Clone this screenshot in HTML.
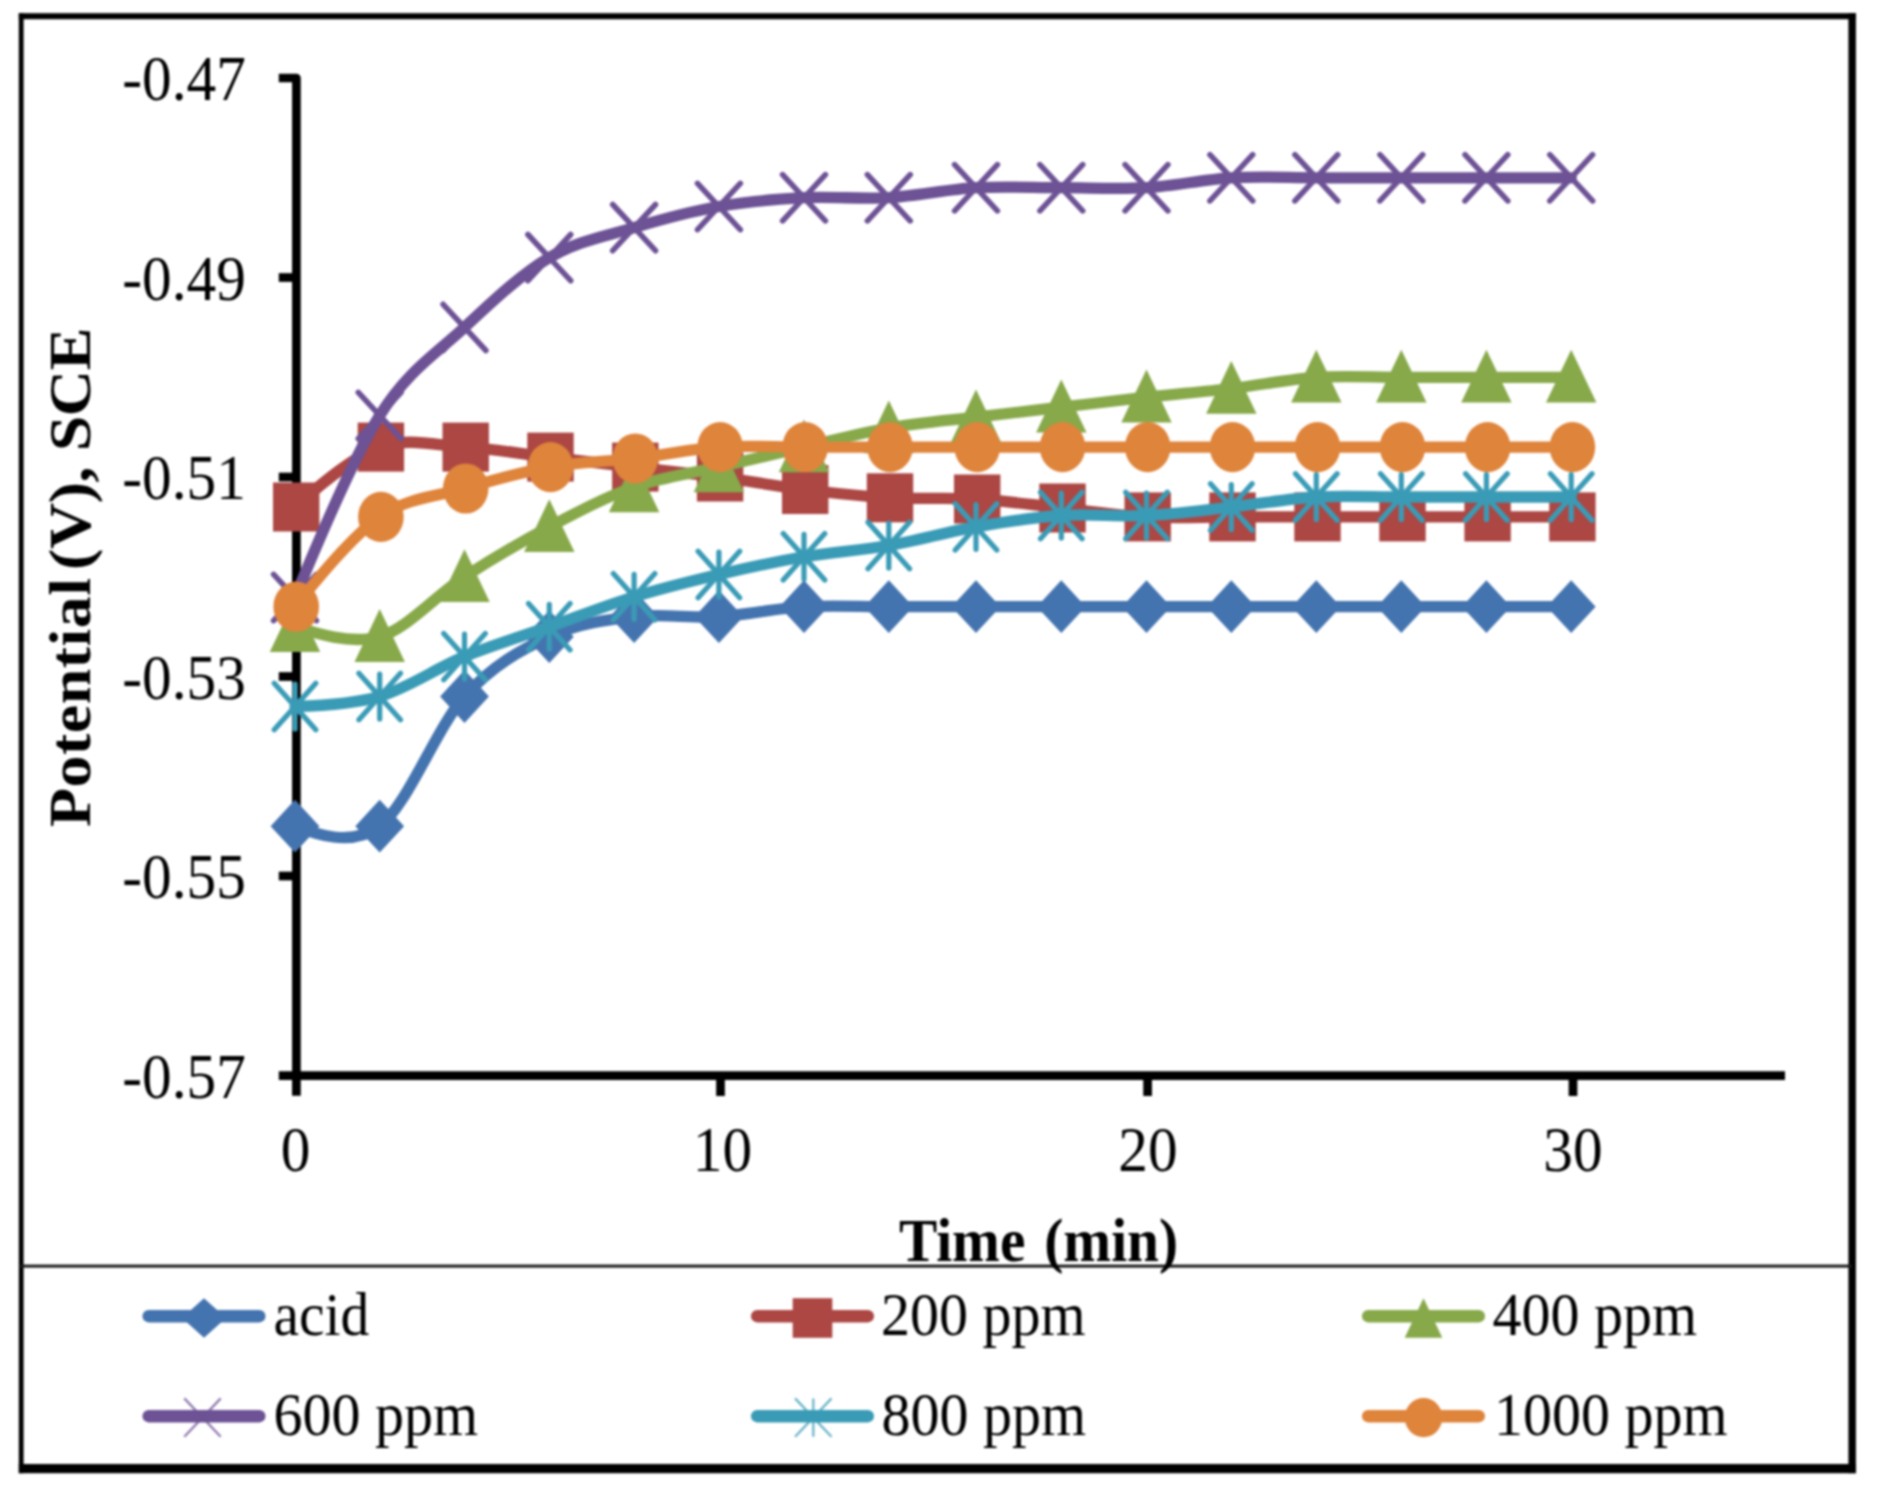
<!DOCTYPE html>
<html lang="en"><head><meta charset="utf-8"><title>Potential vs Time</title>
<style>html,body{margin:0;padding:0;background:#fff}body{width:1878px;height:1488px;overflow:hidden}svg{display:block;filter:blur(0.8px)}</style>
</head><body>
<svg width="1878" height="1488" viewBox="0 0 1878 1488">
<rect width="1878" height="1488" fill="#fff"/>
<rect x="18.8" y="13.2" width="1837.1" height="6" fill="#000"/>
<rect x="18.8" y="13.2" width="4.8" height="1460" fill="#000"/>
<rect x="1848.4" y="13.2" width="7.5" height="1460" fill="#000"/>
<rect x="18.8" y="1464" width="1837.1" height="9.2" fill="#000"/>
<rect x="20" y="1264.6" width="1832" height="3" fill="#1a1a1a"/>
<g stroke="#000" stroke-width="8.7" fill="none">
<path d="M278.8,78H296.4V1095.8" stroke-linejoin="round"/>
<path d="M278.8,1075.6H1785"/>
<path d="M278.8,277.5H296"/>
<path d="M278.8,477H296"/>
<path d="M278.8,676.5H296"/>
<path d="M278.8,876H296"/>
<path d="M720.5,1075.6V1096"/>
<path d="M1147.6,1075.6V1096"/>
<path d="M1573,1075.6V1096"/>
</g>
<g><path d="M295.0,826.2C313.8,833.4 351.4,847.8 379.7,826.2C407.9,804.6 436.2,728.1 464.5,696.5C492.8,664.9 521.0,650.0 549.3,636.7C577.6,623.4 605.8,620.0 634.1,616.7C662.4,613.4 690.6,618.4 718.9,616.7C747.2,615.0 775.7,608.4 804.0,606.7C832.3,605.1 860.1,606.7 888.8,606.7C917.5,606.7 947.2,606.7 976.0,606.7C1004.8,606.7 1032.9,606.7 1061.3,606.7C1089.7,606.7 1118.2,606.7 1146.5,606.7C1174.8,606.7 1203.0,606.7 1231.3,606.7C1259.6,606.7 1288.0,606.7 1316.3,606.7C1344.6,606.7 1372.9,606.7 1401.3,606.7C1429.7,606.7 1458.1,606.7 1486.4,606.7C1514.7,606.7 1552.4,606.7 1571.2,606.7" stroke="#4474AF" stroke-width="11.3" fill="none" stroke-linecap="round" stroke-linejoin="round"/>
<path d="M295.0,799.8L319.4,826.2L295.0,852.6L270.6,826.2Z" fill="#4474AF"/>
<path d="M379.7,799.8L404.1,826.2L379.7,852.6L355.3,826.2Z" fill="#4474AF"/>
<path d="M464.5,670.1L488.9,696.5L464.5,722.9L440.1,696.5Z" fill="#4474AF"/>
<path d="M549.3,610.3L573.7,636.7L549.3,663.1L524.9,636.7Z" fill="#4474AF"/>
<path d="M634.1,590.3L658.5,616.7L634.1,643.1L609.7,616.7Z" fill="#4474AF"/>
<path d="M718.9,590.3L743.3,616.7L718.9,643.1L694.5,616.7Z" fill="#4474AF"/>
<path d="M804.0,580.3L828.4,606.7L804.0,633.1L779.6,606.7Z" fill="#4474AF"/>
<path d="M888.8,580.3L913.2,606.7L888.8,633.1L864.4,606.7Z" fill="#4474AF"/>
<path d="M976.0,580.3L1000.4,606.7L976.0,633.1L951.6,606.7Z" fill="#4474AF"/>
<path d="M1061.3,580.3L1085.7,606.7L1061.3,633.1L1036.9,606.7Z" fill="#4474AF"/>
<path d="M1146.5,580.3L1170.9,606.7L1146.5,633.1L1122.1,606.7Z" fill="#4474AF"/>
<path d="M1231.3,580.3L1255.7,606.7L1231.3,633.1L1206.9,606.7Z" fill="#4474AF"/>
<path d="M1316.3,580.3L1340.7,606.7L1316.3,633.1L1291.9,606.7Z" fill="#4474AF"/>
<path d="M1401.3,580.3L1425.7,606.7L1401.3,633.1L1376.9,606.7Z" fill="#4474AF"/>
<path d="M1486.4,580.3L1510.8,606.7L1486.4,633.1L1462.0,606.7Z" fill="#4474AF"/>
<path d="M1571.2,580.3L1595.6,606.7L1571.2,633.1L1546.8,606.7Z" fill="#4474AF"/>
</g>
<g><path d="M295.0,507.0C313.8,490.3 351.4,457.1 379.7,447.1C407.9,437.1 436.2,445.4 464.5,447.1C492.8,448.8 521.0,453.8 549.3,457.1C577.6,460.4 605.8,463.7 634.1,467.1C662.4,470.4 690.6,473.3 718.9,477.0C747.2,480.8 775.7,486.0 804.0,489.5C832.3,493.0 860.1,496.2 888.8,497.8C917.5,499.4 947.2,497.3 976.0,499.0C1004.8,500.7 1032.9,505.0 1061.3,508.0C1089.7,511.0 1118.2,515.5 1146.5,516.9C1174.8,518.4 1203.0,516.9 1231.3,516.9C1259.6,516.9 1288.0,516.9 1316.3,516.9C1344.6,516.9 1372.9,516.9 1401.3,516.9C1429.7,516.9 1458.1,516.9 1486.4,516.9C1514.7,516.9 1552.4,516.9 1571.2,516.9" stroke="#AC4744" stroke-width="11.3" fill="none" stroke-linecap="round" stroke-linejoin="round"/>
<rect x="273.0" y="482.5" width="46.4" height="49.0" fill="#AC4744"/>
<rect x="357.7" y="422.6" width="46.4" height="49.0" fill="#AC4744"/>
<rect x="442.5" y="422.6" width="46.4" height="49.0" fill="#AC4744"/>
<rect x="527.3" y="432.6" width="46.4" height="49.0" fill="#AC4744"/>
<rect x="612.1" y="442.6" width="46.4" height="49.0" fill="#AC4744"/>
<rect x="696.9" y="452.5" width="46.4" height="49.0" fill="#AC4744"/>
<rect x="782.0" y="465.0" width="46.4" height="49.0" fill="#AC4744"/>
<rect x="866.8" y="473.3" width="46.4" height="49.0" fill="#AC4744"/>
<rect x="954.0" y="474.5" width="46.4" height="49.0" fill="#AC4744"/>
<rect x="1039.3" y="483.5" width="46.4" height="49.0" fill="#AC4744"/>
<rect x="1124.5" y="492.4" width="46.4" height="49.0" fill="#AC4744"/>
<rect x="1209.3" y="492.4" width="46.4" height="49.0" fill="#AC4744"/>
<rect x="1294.3" y="492.4" width="46.4" height="49.0" fill="#AC4744"/>
<rect x="1379.3" y="492.4" width="46.4" height="49.0" fill="#AC4744"/>
<rect x="1464.4" y="492.4" width="46.4" height="49.0" fill="#AC4744"/>
<rect x="1549.2" y="492.4" width="46.4" height="49.0" fill="#AC4744"/>
</g>
<g><path d="M295.0,626.7C313.8,632.8 351.4,645.0 379.7,636.7C407.9,628.3 436.2,595.1 464.5,576.8C492.8,558.5 521.0,541.9 549.3,526.9C577.6,512.0 605.8,497.0 634.1,487.0C662.4,477.0 690.6,473.7 718.9,467.1C747.2,460.4 775.7,453.6 804.0,447.1C832.3,440.6 860.1,433.0 888.8,428.0C917.5,423.0 947.2,420.6 976.0,417.2C1004.8,413.7 1032.9,410.5 1061.3,407.2C1089.7,403.9 1118.2,400.4 1146.5,397.2C1174.8,394.1 1203.0,391.8 1231.3,388.5C1259.6,385.2 1288.0,379.2 1316.3,377.3C1344.6,375.4 1372.9,377.3 1401.3,377.3C1429.7,377.3 1458.1,377.3 1486.4,377.3C1514.7,377.3 1552.4,377.3 1571.2,377.3" stroke="#87A94A" stroke-width="11.3" fill="none" stroke-linecap="round" stroke-linejoin="round"/>
<path d="M295.0,599.1L320.2,651.9L269.8,651.9Z" fill="#87A94A"/>
<path d="M379.7,609.1L404.9,661.9L354.5,661.9Z" fill="#87A94A"/>
<path d="M464.5,549.2L489.7,602.0L439.3,602.0Z" fill="#87A94A"/>
<path d="M549.3,499.3L574.5,552.1L524.1,552.1Z" fill="#87A94A"/>
<path d="M634.1,459.4L659.3,512.2L608.9,512.2Z" fill="#87A94A"/>
<path d="M718.9,439.5L744.1,492.3L693.7,492.3Z" fill="#87A94A"/>
<path d="M804.0,419.5L829.2,472.3L778.8,472.3Z" fill="#87A94A"/>
<path d="M888.8,400.4L914.0,453.2L863.6,453.2Z" fill="#87A94A"/>
<path d="M976.0,389.6L1001.2,442.4L950.8,442.4Z" fill="#87A94A"/>
<path d="M1061.3,379.6L1086.5,432.4L1036.1,432.4Z" fill="#87A94A"/>
<path d="M1146.5,369.6L1171.7,422.4L1121.3,422.4Z" fill="#87A94A"/>
<path d="M1231.3,360.9L1256.5,413.7L1206.1,413.7Z" fill="#87A94A"/>
<path d="M1316.3,349.7L1341.5,402.5L1291.1,402.5Z" fill="#87A94A"/>
<path d="M1401.3,349.7L1426.5,402.5L1376.1,402.5Z" fill="#87A94A"/>
<path d="M1486.4,349.7L1511.6,402.5L1461.2,402.5Z" fill="#87A94A"/>
<path d="M1571.2,349.7L1596.4,402.5L1546.0,402.5Z" fill="#87A94A"/>
</g>
<g><path d="M295.0,597.5C313.8,551.8 351.4,460.5 379.7,415.5C407.9,370.5 436.2,353.7 464.5,327.4C492.8,301.1 521.0,274.2 549.3,257.6C577.6,240.9 605.8,236.2 634.1,227.6C662.4,219.1 690.6,211.5 718.9,206.5C747.2,201.5 775.7,199.2 804.0,197.7C832.3,196.2 860.1,199.4 888.8,197.7C917.5,196.0 947.2,189.4 976.0,187.7C1004.8,186.1 1032.9,187.7 1061.3,187.7C1089.7,187.7 1118.2,189.4 1146.5,187.7C1174.8,186.1 1203.0,179.4 1231.3,177.8C1259.6,176.1 1288.0,177.8 1316.3,177.8C1344.6,177.8 1372.9,177.8 1401.3,177.8C1429.7,177.8 1458.1,177.8 1486.4,177.8C1514.7,177.8 1552.4,177.8 1571.2,177.8" stroke="#6D5295" stroke-width="11.3" fill="none" stroke-linecap="round" stroke-linejoin="round"/>
<path d="M273.6,574.4L316.4,620.6M273.6,620.6L316.4,574.4" stroke="#6D5295" stroke-width="5.6" stroke-linecap="round" fill="none"/>
<path d="M358.3,392.4L401.1,438.6M358.3,438.6L401.1,392.4" stroke="#6D5295" stroke-width="5.6" stroke-linecap="round" fill="none"/>
<path d="M443.1,304.3L485.9,350.5M443.1,350.5L485.9,304.3" stroke="#6D5295" stroke-width="5.6" stroke-linecap="round" fill="none"/>
<path d="M527.9,234.5L570.7,280.7M527.9,280.7L570.7,234.5" stroke="#6D5295" stroke-width="5.6" stroke-linecap="round" fill="none"/>
<path d="M612.7,204.5L655.5,250.7M612.7,250.7L655.5,204.5" stroke="#6D5295" stroke-width="5.6" stroke-linecap="round" fill="none"/>
<path d="M697.5,183.4L740.3,229.6M697.5,229.6L740.3,183.4" stroke="#6D5295" stroke-width="5.6" stroke-linecap="round" fill="none"/>
<path d="M782.6,174.6L825.4,220.8M782.6,220.8L825.4,174.6" stroke="#6D5295" stroke-width="5.6" stroke-linecap="round" fill="none"/>
<path d="M867.4,174.6L910.2,220.8M867.4,220.8L910.2,174.6" stroke="#6D5295" stroke-width="5.6" stroke-linecap="round" fill="none"/>
<path d="M954.6,164.6L997.4,210.8M954.6,210.8L997.4,164.6" stroke="#6D5295" stroke-width="5.6" stroke-linecap="round" fill="none"/>
<path d="M1039.9,164.6L1082.7,210.8M1039.9,210.8L1082.7,164.6" stroke="#6D5295" stroke-width="5.6" stroke-linecap="round" fill="none"/>
<path d="M1125.1,164.6L1167.9,210.8M1125.1,210.8L1167.9,164.6" stroke="#6D5295" stroke-width="5.6" stroke-linecap="round" fill="none"/>
<path d="M1209.9,154.7L1252.7,200.9M1209.9,200.9L1252.7,154.7" stroke="#6D5295" stroke-width="5.6" stroke-linecap="round" fill="none"/>
<path d="M1294.9,154.7L1337.7,200.9M1294.9,200.9L1337.7,154.7" stroke="#6D5295" stroke-width="5.6" stroke-linecap="round" fill="none"/>
<path d="M1379.9,154.7L1422.7,200.9M1379.9,200.9L1422.7,154.7" stroke="#6D5295" stroke-width="5.6" stroke-linecap="round" fill="none"/>
<path d="M1465.0,154.7L1507.8,200.9M1465.0,200.9L1507.8,154.7" stroke="#6D5295" stroke-width="5.6" stroke-linecap="round" fill="none"/>
<path d="M1549.8,154.7L1592.6,200.9M1549.8,200.9L1592.6,154.7" stroke="#6D5295" stroke-width="5.6" stroke-linecap="round" fill="none"/>
</g>
<g><path d="M295.0,706.5C313.8,705.9 351.4,704.8 379.7,696.5C407.9,688.2 436.2,668.2 464.5,656.6C492.8,645.0 521.0,636.7 549.3,626.7C577.6,616.7 605.8,605.4 634.1,596.8C662.4,588.1 690.6,581.2 718.9,574.5C747.2,567.8 775.7,561.7 804.0,556.8C832.3,552.0 860.1,550.5 888.8,545.5C917.5,540.5 947.2,531.9 976.0,526.9C1004.8,521.9 1032.9,517.4 1061.3,515.5C1089.7,513.6 1118.2,516.9 1146.5,515.5C1174.8,514.1 1203.0,510.1 1231.3,507.0C1259.6,503.9 1288.0,498.7 1316.3,497.0C1344.6,495.3 1372.9,497.0 1401.3,497.0C1429.7,497.0 1458.1,497.0 1486.4,497.0C1514.7,497.0 1552.4,497.0 1571.2,497.0" stroke="#3A9BB6" stroke-width="11.3" fill="none" stroke-linecap="round" stroke-linejoin="round"/>
<path d="M274.2,683.3L315.8,729.7M274.2,729.7L315.8,683.3M295.0,684.1L295.0,728.9" stroke="#3A9BB6" stroke-width="5.2" stroke-linecap="round" fill="none"/>
<path d="M358.9,673.3L400.5,719.7M358.9,719.7L400.5,673.3M379.7,674.1L379.7,718.9" stroke="#3A9BB6" stroke-width="5.2" stroke-linecap="round" fill="none"/>
<path d="M443.7,633.4L485.3,679.8M443.7,679.8L485.3,633.4M464.5,634.2L464.5,679.0" stroke="#3A9BB6" stroke-width="5.2" stroke-linecap="round" fill="none"/>
<path d="M528.5,603.5L570.1,649.9M528.5,649.9L570.1,603.5M549.3,604.3L549.3,649.1" stroke="#3A9BB6" stroke-width="5.2" stroke-linecap="round" fill="none"/>
<path d="M613.3,573.6L654.9,620.0M613.3,620.0L654.9,573.6M634.1,574.4L634.1,619.2" stroke="#3A9BB6" stroke-width="5.2" stroke-linecap="round" fill="none"/>
<path d="M698.1,551.3L739.7,597.7M698.1,597.7L739.7,551.3M718.9,552.1L718.9,596.9" stroke="#3A9BB6" stroke-width="5.2" stroke-linecap="round" fill="none"/>
<path d="M783.2,533.6L824.8,580.0M783.2,580.0L824.8,533.6M804.0,534.4L804.0,579.2" stroke="#3A9BB6" stroke-width="5.2" stroke-linecap="round" fill="none"/>
<path d="M868.0,522.3L909.6,568.7M868.0,568.7L909.6,522.3M888.8,523.1L888.8,567.9" stroke="#3A9BB6" stroke-width="5.2" stroke-linecap="round" fill="none"/>
<path d="M955.2,503.7L996.8,550.1M955.2,550.1L996.8,503.7M976.0,504.5L976.0,549.3" stroke="#3A9BB6" stroke-width="5.2" stroke-linecap="round" fill="none"/>
<path d="M1040.5,492.3L1082.1,538.7M1040.5,538.7L1082.1,492.3M1061.3,493.1L1061.3,537.9" stroke="#3A9BB6" stroke-width="5.2" stroke-linecap="round" fill="none"/>
<path d="M1125.7,492.3L1167.3,538.7M1125.7,538.7L1167.3,492.3M1146.5,493.1L1146.5,537.9" stroke="#3A9BB6" stroke-width="5.2" stroke-linecap="round" fill="none"/>
<path d="M1210.5,483.8L1252.1,530.2M1210.5,530.2L1252.1,483.8M1231.3,484.6L1231.3,529.4" stroke="#3A9BB6" stroke-width="5.2" stroke-linecap="round" fill="none"/>
<path d="M1295.5,473.8L1337.1,520.2M1295.5,520.2L1337.1,473.8M1316.3,474.6L1316.3,519.4" stroke="#3A9BB6" stroke-width="5.2" stroke-linecap="round" fill="none"/>
<path d="M1380.5,473.8L1422.1,520.2M1380.5,520.2L1422.1,473.8M1401.3,474.6L1401.3,519.4" stroke="#3A9BB6" stroke-width="5.2" stroke-linecap="round" fill="none"/>
<path d="M1465.6,473.8L1507.2,520.2M1465.6,520.2L1507.2,473.8M1486.4,474.6L1486.4,519.4" stroke="#3A9BB6" stroke-width="5.2" stroke-linecap="round" fill="none"/>
<path d="M1550.4,473.8L1592.0,520.2M1550.4,520.2L1592.0,473.8M1571.2,474.6L1571.2,519.4" stroke="#3A9BB6" stroke-width="5.2" stroke-linecap="round" fill="none"/>
</g>
<g><path d="M295.0,606.7C313.8,583.4 351.4,536.6 379.7,516.9C407.9,497.2 436.2,496.8 464.5,488.5C492.8,480.2 521.0,472.1 549.3,467.1C577.6,462.1 605.8,461.8 634.1,458.5C662.4,455.2 690.6,449.0 718.9,447.1C747.2,445.2 775.7,447.1 804.0,447.1C832.3,447.1 860.1,447.1 888.8,447.1C917.5,447.1 947.2,447.1 976.0,447.1C1004.8,447.1 1032.9,447.1 1061.3,447.1C1089.7,447.1 1118.2,447.1 1146.5,447.1C1174.8,447.1 1203.0,447.1 1231.3,447.1C1259.6,447.1 1288.0,447.1 1316.3,447.1C1344.6,447.1 1372.9,447.1 1401.3,447.1C1429.7,447.1 1458.1,447.1 1486.4,447.1C1514.7,447.1 1552.4,447.1 1571.2,447.1" stroke="#DF843B" stroke-width="11.3" fill="none" stroke-linecap="round" stroke-linejoin="round"/>
<ellipse cx="296.2" cy="606.7" rx="22.8" ry="25.1" fill="#DF843B"/>
<ellipse cx="380.9" cy="516.9" rx="22.8" ry="25.1" fill="#DF843B"/>
<ellipse cx="465.7" cy="488.5" rx="22.8" ry="25.1" fill="#DF843B"/>
<ellipse cx="550.5" cy="467.1" rx="22.8" ry="25.1" fill="#DF843B"/>
<ellipse cx="635.3" cy="458.5" rx="22.8" ry="25.1" fill="#DF843B"/>
<ellipse cx="720.1" cy="447.1" rx="22.8" ry="25.1" fill="#DF843B"/>
<ellipse cx="805.2" cy="447.1" rx="22.8" ry="25.1" fill="#DF843B"/>
<ellipse cx="890.0" cy="447.1" rx="22.8" ry="25.1" fill="#DF843B"/>
<ellipse cx="977.2" cy="447.1" rx="22.8" ry="25.1" fill="#DF843B"/>
<ellipse cx="1062.5" cy="447.1" rx="22.8" ry="25.1" fill="#DF843B"/>
<ellipse cx="1147.7" cy="447.1" rx="22.8" ry="25.1" fill="#DF843B"/>
<ellipse cx="1232.5" cy="447.1" rx="22.8" ry="25.1" fill="#DF843B"/>
<ellipse cx="1317.5" cy="447.1" rx="22.8" ry="25.1" fill="#DF843B"/>
<ellipse cx="1402.5" cy="447.1" rx="22.8" ry="25.1" fill="#DF843B"/>
<ellipse cx="1487.6" cy="447.1" rx="22.8" ry="25.1" fill="#DF843B"/>
<ellipse cx="1572.4" cy="447.1" rx="22.8" ry="25.1" fill="#DF843B"/>
</g>
<g font-family="'Liberation Serif', 'Times New Roman', serif" fill="#000">
<text transform="translate(245.8,100.0) scale(1,1.066)" font-size="59.3" text-anchor="end">-0.47</text>
<text transform="translate(245.8,299.5) scale(1,1.066)" font-size="59.3" text-anchor="end">-0.49</text>
<text transform="translate(245.8,499.0) scale(1,1.066)" font-size="59.3" text-anchor="end">-0.51</text>
<text transform="translate(245.8,698.5) scale(1,1.066)" font-size="59.3" text-anchor="end">-0.53</text>
<text transform="translate(245.8,898.0) scale(1,1.066)" font-size="59.3" text-anchor="end">-0.55</text>
<text transform="translate(245.8,1097.6) scale(1,1.066)" font-size="59.3" text-anchor="end">-0.57</text>
<text transform="translate(295.6,1171) scale(1,1.066)" font-size="59.3" text-anchor="middle">0</text>
<text transform="translate(722.5,1171) scale(1,1.066)" font-size="59.3" text-anchor="middle">10</text>
<text transform="translate(1148,1171) scale(1,1.066)" font-size="59.3" text-anchor="middle">20</text>
<text transform="translate(1573,1171) scale(1,1.066)" font-size="59.3" text-anchor="middle">30</text>
<text transform="translate(1038.5,1260.6) scale(1,1.075)" font-size="57.4" text-anchor="middle" font-weight="bold" word-spacing="4.5">Time (min)</text>
<text transform="translate(90.3,577.6) scale(1,1.085) rotate(-90)" font-size="59" text-anchor="middle" font-weight="bold"><tspan letter-spacing="0.45">Potential</tspan><tspan dx="-7.5" letter-spacing="-0.4"> (V), SCE</tspan></text>
<text transform="translate(273.5,1335.2) scale(1,1.064)" font-size="57.5" text-anchor="start">acid</text>
<text transform="translate(881,1335.2) scale(1,1.064)" font-size="58" text-anchor="start">200 ppm</text>
<text transform="translate(1492.5,1335.2) scale(1,1.064)" font-size="58" text-anchor="start">400 ppm</text>
<text transform="translate(273.5,1435.2) scale(1,1.064)" font-size="58" text-anchor="start">600 ppm</text>
<text transform="translate(881.5,1435.2) scale(1,1.064)" font-size="58" text-anchor="start">800 ppm</text>
<text transform="translate(1494,1435.2) scale(1,1.064)" font-size="58" text-anchor="start">1000 ppm</text>
</g>
<path d="M148.7,1316.2H259.3" stroke="#4474AF" stroke-width="12.4" stroke-linecap="round"/>
<path d="M204.0,1298.2L226.0,1318L204.0,1337.8L182.0,1318Z" fill="#4474AF"/>
<path d="M757.2,1316.2H867.8" stroke="#AC4744" stroke-width="12.4" stroke-linecap="round"/>
<rect x="792.7" y="1298.2" width="39.6" height="39.6" fill="#AC4744"/>
<path d="M1368.2,1316.2H1478.8" stroke="#87A94A" stroke-width="12.4" stroke-linecap="round"/>
<path d="M1423.5,1298.2L1442.3,1337.8L1404.7,1337.8Z" fill="#87A94A"/>
<path d="M148.7,1416.2H259.3" stroke="#6D5295" stroke-width="12.4" stroke-linecap="round"/>
<path d="M184.3,1398.4L220.7,1436.8M184.3,1436.8L220.7,1398.4" stroke="#6D5295" stroke-width="2.3" stroke-opacity="0.75" fill="none"/>
<path d="M757.2,1416.2H867.8" stroke="#3A9BB6" stroke-width="12.4" stroke-linecap="round"/>
<path d="M795.1,1398.4L831.5,1436.8M795.1,1436.8L831.5,1398.4M813.3,1398.4L813.3,1436.8" stroke="#3A9BB6" stroke-width="2.3" stroke-opacity="0.75" fill="none"/>
<path d="M1368.2,1416.2H1478.8" stroke="#DF843B" stroke-width="12.4" stroke-linecap="round"/>
<ellipse cx="1423.5" cy="1417.6" rx="18.8" ry="19.6" fill="#DF843B"/>
</svg>
</body></html>
